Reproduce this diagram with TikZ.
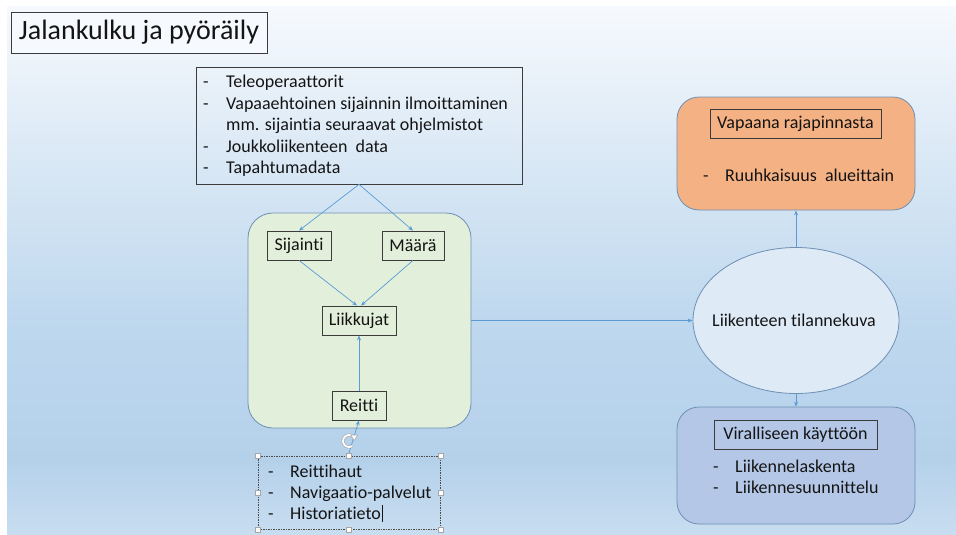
\documentclass[tikz,border=0pt]{standalone}
\usepackage{fontspec}
\setmainfont[Ligatures={TeX,NoCommon}]{Carlito}
\usetikzlibrary{arrows.meta,shapes.geometric}
\definecolor{ink}{HTML}{141414}
\definecolor{boxline}{HTML}{3C3C3C}
\definecolor{flow}{HTML}{5B9BD5}
\definecolor{panelline}{HTML}{6F8FB4}
\definecolor{greenfill}{HTML}{E2EFDA}
\definecolor{orangefill}{HTML}{F4B183}
\definecolor{bluefill}{HTML}{B4C7E7}
\definecolor{ellfill}{HTML}{DEEAF6}
\definecolor{bgA}{HTML}{F6F9FD}
\definecolor{bgB}{HTML}{D6E6F4}
\definecolor{bgC}{HTML}{BDD7EE}
\definecolor{bgD}{HTML}{B5D1EA}
\definecolor{bgE}{HTML}{C8DDF0}
\begin{document}
\begin{tikzpicture}[x=1pt,y=-1pt,
  txt/.style={font=\fontsize{18}{21}\selectfont, text=ink, inner sep=0pt},
  labelbox/.style={draw=boxline, line width=0.8pt, txt, minimum height=29pt},
  panel/.style={draw=panelline, line width=0.8pt, rounded corners=#1, inner sep=0pt},
  panel/.default=22pt,
  flowarrow/.style={draw=flow, line width=0.7pt, -{Stealth[length=5pt,width=4pt]}},
  item/.style={txt, anchor=base west},
  handle/.style={draw=gray!70, fill=white, line width=0.5pt, minimum size=5pt, inner sep=0pt}
]
% slide background
\useasboundingbox (0,0) rectangle (956,535);
\fill[white] (0,0) rectangle (956,535);
\shade[top color=bgA, bottom color=bgB] (7,7) rectangle (956,181);
\shade[top color=bgB, bottom color=bgC] (7,180.5) rectangle (956,331);
\shade[top color=bgC, bottom color=bgD] (7,330.5) rectangle (956,461);
\shade[top color=bgD, bottom color=bgE] (7,460.5) rectangle (956,535);

% title
\node[draw=boxline, line width=0.8pt, fill=bgA, minimum width=256pt, minimum height=41pt,
      inner sep=0pt, text=ink, font=\fontsize{28}{32}\selectfont] (title) at (139,32.5) {Jalankulku ja pyöräily};

% data sources
\node[draw=boxline, line width=0.8pt, minimum width=326pt, minimum height=117pt, inner sep=0pt] (src) at (359,125.5) {};
\node[item] (s1d) at (203,88) {-};
\node[item] (s1) at (226,88) {Teleoperaattorit};
\node[item] (s2d) at (203,109) {-};
\node[item] (s2) at (226,109) {Vapaaehtoinen sijainnin ilmoittaminen};
\node[item] (s3) at (226,130) {mm. sijaintia seuraavat ohjelmistot};
\node[item] (s4d) at (203,152) {-};
\node[item] (s4) at (226,152) {Joukkoliikenteen\hspace{0.45em}data};
\node[item] (s5d) at (203,173) {-};
\node[item] (s5) at (226,173) {Tapahtumadata};

% processing group
\node[panel=25pt, fill=greenfill, minimum width=223pt, minimum height=215pt] (grp) at (359.5,320.5) {};
\node[labelbox, fill=greenfill, minimum width=64pt] (sij) at (299,245.5) {Sijainti};
\node[labelbox, fill=greenfill, minimum width=62pt] (maara) at (413,245.5) {Määrä};
\node[labelbox, fill=greenfill, minimum width=74pt] (liik) at (359,320.5) {Liikkujat};
\node[labelbox, fill=greenfill, minimum width=54pt] (reitti) at (359,405.5) {Reitti};

% route sources (text box in edit mode)
\node[draw=gray!60!black, dash pattern=on 1.5pt off 1pt, line width=0.5pt,
      minimum width=182pt, minimum height=73pt, inner sep=0pt] (list) at (349,492.5) {};
\node[item] (r1d) at (268,477) {-};
\node[item] (r1) at (290,477) {Reittihaut};
\node[item] (r2d) at (268,498) {-};
\node[item] (r2) at (290,498) {Navigaatio-palvelut};
\node[item] (r3d) at (268,519) {-};
\node[item] (r3) at (290,519) {Historiatieto};
\draw[ink, line width=0.6pt] (r3.base east) ++(1.5,-14) -- ++(0,17);
\foreach \a/\n in {north west/1, north/2, north east/3, west/4, east/5, south west/6, south/7, south east/8}
  \node[handle] (h\n) at (list.\a) {};

% situational picture
\node[ellipse, draw=panelline, line width=0.8pt, fill=ellfill, minimum width=206pt, minimum height=146pt,
      inner sep=0pt] (kuva) at (796,320.5) {};
\node[txt] (kuvatxt) at (794,320.5) {Liikenteen tilannekuva};

% open interface
\node[panel, fill=orangefill, minimum width=238pt, minimum height=113pt] (vapaa) at (796,153.5) {};
\node[labelbox, fill=orangefill, minimum width=171pt] (vapaahdr) at (795.5,123.5) {Vapaana rajapinnasta};
\node[item] (v1d) at (703,181) {-};
\node[item] (v1) at (725,181) {Ruuhkaisuus\hspace{0.45em}alueittain};

% official use
\node[panel, fill=bluefill, minimum width=238pt, minimum height=117pt] (virall) at (796,465.5) {};
\node[labelbox, fill=bluefill, minimum width=163pt] (viralhdr) at (795.5,434.5) {Viralliseen käyttöön};
\node[item] (o1d) at (713,472) {-};
\node[item] (o1) at (735,472) {Liikennelaskenta};
\node[item] (o2d) at (713,493) {-};
\node[item] (o2) at (735,493) {Liikennesuunnittelu};

% connectors
\draw[flowarrow] (src.south) -- (sij.north);
\draw[flowarrow] (src.south) -- (maara.north);
\draw[flowarrow] (sij.south) -- ([xshift=-2pt]liik.north);
\draw[flowarrow] (maara.south) -- ([xshift=2pt]liik.north);
\draw[flowarrow] (reitti.north) -- (liik.south);
\draw[flowarrow] (h2.north) -- (reitti.south);
\draw[flowarrow] (grp.east) -- (kuva.west);
\draw[flowarrow] (kuva.north) -- (vapaa.south);
\draw[flowarrow] (kuva.south) -- (virall.north);

% rotation handle
\draw[gray!70, line width=3pt] (349,441) ++(60:6) arc[start angle=60, end angle=330, radius=6];
\draw[white, line width=1.8pt] (349,441) ++(60:6) arc[start angle=60, end angle=330, radius=6];
\fill[white, draw=gray!70, line width=0.5pt] (349,441) ++(330:6) ++(-3.5,-3) -- ++(7,0) -- ++(-3.5,5.5) -- cycle;
\end{tikzpicture}
\end{document}
